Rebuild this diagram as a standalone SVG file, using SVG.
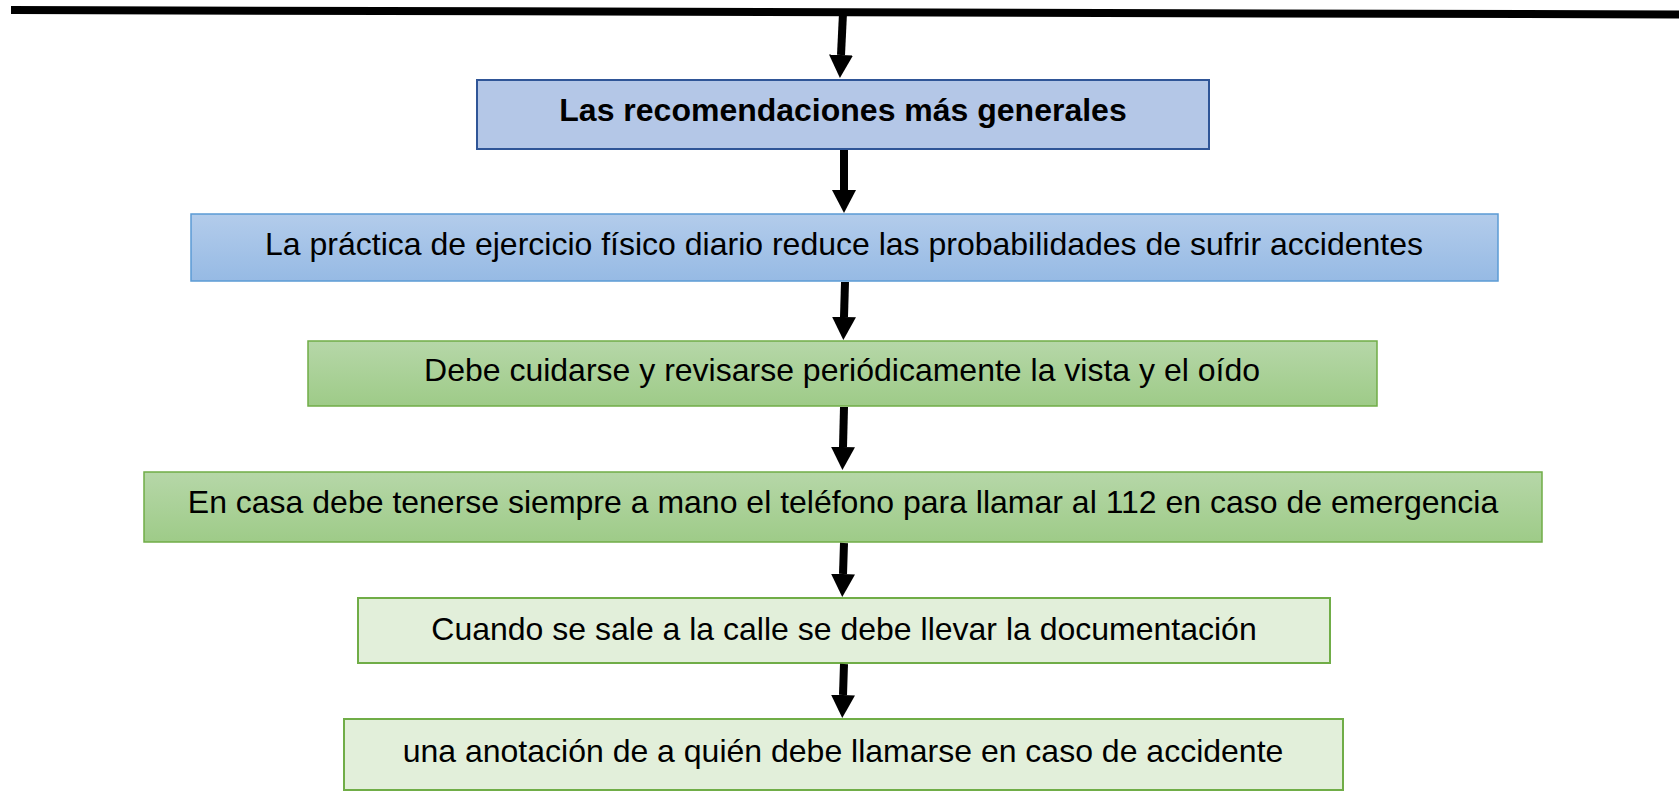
<svg xmlns="http://www.w3.org/2000/svg" width="1679" height="791" viewBox="0 0 1679 791">
  <defs>
    <linearGradient id="gBlue" x1="0" y1="0" x2="0" y2="1">
      <stop offset="0" stop-color="#b3cceb"/>
      <stop offset="1" stop-color="#96bae4"/>
    </linearGradient>
    <linearGradient id="gGreen" x1="0" y1="0" x2="0" y2="1">
      <stop offset="0" stop-color="#b6d7a8"/>
      <stop offset="1" stop-color="#9ecb88"/>
    </linearGradient>
    <marker id="ah" markerUnits="userSpaceOnUse" markerWidth="23" markerHeight="24" viewBox="0 0 23 24" refX="0" refY="12" orient="auto">
      <path d="M0,0 L23,12 L0,24 Z" fill="#000"/>
    </marker>
  </defs>
  <style>
    .t { font-family: "Liberation Sans", Arial, sans-serif; font-size: 32px; fill: #000; text-anchor: middle; }
    .b { font-weight: bold; }
    .conn { stroke: #000; stroke-width: 8; fill: none; marker-end: url(#ah); }
  </style>
  <rect width="1679" height="791" fill="#fff"/>
  <line x1="11" y1="10" x2="1679" y2="14.5" stroke="#000" stroke-width="8"/>

  <g id="n1">
    <rect x="477" y="80" width="732" height="69" fill="#b4c7e7" stroke="#2f5597" stroke-width="2"/>
    <text class="t b" x="843" y="121">Las recomendaciones más generales</text>
  </g>
  <g id="n2">
    <rect x="191" y="214" width="1307" height="67" fill="url(#gBlue)" stroke="#5b9bd5" stroke-width="1.5"/>
    <text class="t" x="844" y="255">La práctica de ejercicio físico diario reduce las probabilidades de sufrir accidentes</text>
  </g>
  <g id="n3">
    <rect x="308" y="341" width="1069" height="65" fill="url(#gGreen)" stroke="#70ad47" stroke-width="1.5"/>
    <text class="t" x="842" y="381">Debe cuidarse y revisarse periódicamente la vista y el oído</text>
  </g>
  <g id="n4">
    <rect x="144" y="472" width="1398" height="70" fill="url(#gGreen)" stroke="#70ad47" stroke-width="1.5"/>
    <text class="t" x="843" y="513">En casa debe tenerse siempre a mano el teléfono para llamar al 112 en caso de emergencia</text>
  </g>
  <g id="n5">
    <rect x="358" y="598" width="972" height="65" fill="#e2efda" stroke="#70ad47" stroke-width="2"/>
    <text class="t" x="844" y="640">Cuando se sale a la calle se debe llevar la documentación</text>
  </g>
  <g id="n6">
    <rect x="344" y="719" width="999" height="71" fill="#e2efda" stroke="#70ad47" stroke-width="2"/>
    <text class="t" x="843" y="762">una anotación de a quién debe llamarse en caso de accidente</text>
  </g>

  <g id="connectors">
    <line class="conn" x1="843" y1="13" x2="841" y2="55"/>
    <line class="conn" x1="844" y1="150" x2="844" y2="190"/>
    <line class="conn" x1="845" y1="282" x2="844" y2="317"/>
    <line class="conn" x1="844" y1="407" x2="843" y2="447"/>
    <line class="conn" x1="844" y1="543" x2="843" y2="574"/>
    <line class="conn" x1="844" y1="664" x2="843" y2="695"/>
  </g>
</svg>
